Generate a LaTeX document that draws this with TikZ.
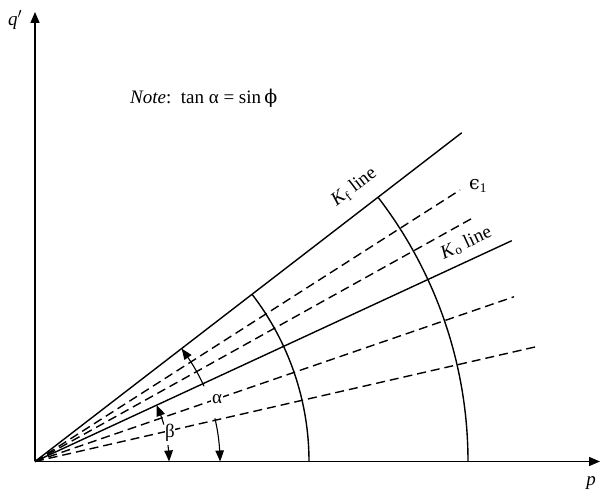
\documentclass[tikz,border=0pt]{standalone}
\usepackage{fontspec}
\setmainfont{Liberation Serif}
\newfontfamily\dvs{DejaVu Serif}
\usetikzlibrary{arrows.meta,bending}
\begin{document}
\begin{tikzpicture}[x=1pt,y=1pt,
  every node/.style={font=\fontsize{19}{22}\selectfont, inner sep=1pt},
  axis/.style={line width=1.4pt,-{Triangle[length=11pt,width=9pt]}},
  solidline/.style={line width=1.4pt},
  dashline/.style={line width=1.4pt,dash pattern=on 9pt off 5pt},
  anglearc/.style={line width=1.1pt,-{Triangle[length=11pt,width=8.5pt,bend]}},
  lab/.style={fill=white,inner sep=1pt}]
\useasboundingbox (0,0) rectangle (600,495);
\coordinate (O) at (35,33.5);
\coordinate (ytop) at (35,483);
\coordinate (xend) at (600,33.5);
\draw[axis] (O) -- (ytop);
\draw[axis] (O) -- (xend);
% radial lines
\coordinate (kf) at ([shift={(O)}]37.61:538.7);
\coordinate (e1) at ([shift={(O)}]32.57:504.3);
\coordinate (d2) at ([shift={(O)}]29.09:503.5);
\coordinate (ko) at ([shift={(O)}]24.85:525.4);
\coordinate (d4) at ([shift={(O)}]18.98:506.6);
\coordinate (d5) at ([shift={(O)}]12.90:513);
\draw[solidline] (O) -- (kf);
\draw[dashline] (O) -- (e1);
\draw[dashline] (O) -- (d2);
\draw[solidline] (O) -- (ko);
\draw[dashline] (O) -- (d4);
\draw[dashline] (O) -- (d5);
% stress path arcs
\coordinate (a1s) at ([shift={(O)}]0:274);
\coordinate (a2s) at ([shift={(O)}]0:433);
\draw[solidline] (a1s) arc[start angle=0,end angle=37.61,radius=274];
\draw[solidline] (a2s) arc[start angle=0,end angle=37.61,radius=433];
% angle arcs
\coordinate (al1) at ([shift={(O)}]24:185);
\coordinate (al2) at ([shift={(O)}]13.5:185);
\coordinate (be1) at ([shift={(O)}]16:134);
\coordinate (be2) at ([shift={(O)}]7:134);
\draw[anglearc] (al1) arc[start angle=24,end angle=37.61,radius=185];
\draw[anglearc] (al2) arc[start angle=13.5,end angle=0,radius=185];
\draw[anglearc] (be1) arc[start angle=16,end angle=24.85,radius=134];
\draw[anglearc] (be2) arc[start angle=7,end angle=0,radius=134];
\node[lab] (alpha) at (217,96) {α};
\node[lab,inner sep=0pt] (beta) at (170,62) {β};
% labels
\node (q) at (15,475) {\textit{q}$'$};
\node (p) at (591,12) {\textit{p}};
\node[anchor=west] (note) at (129,397) {\textit{Note}:\, tan α = sin\,{\dvs ϕ}};
\node[rotate=37.61] (kfl) at (354,308) {\textit{K}\textsubscript{f} line};
\node[rotate=24.85] (kol) at (466,252) {\textit{K}\textsubscript{o} line};
\node (e1l) at (478,309) {{\dvs ϵ}\textsubscript{1}};
\end{tikzpicture}
\end{document}
